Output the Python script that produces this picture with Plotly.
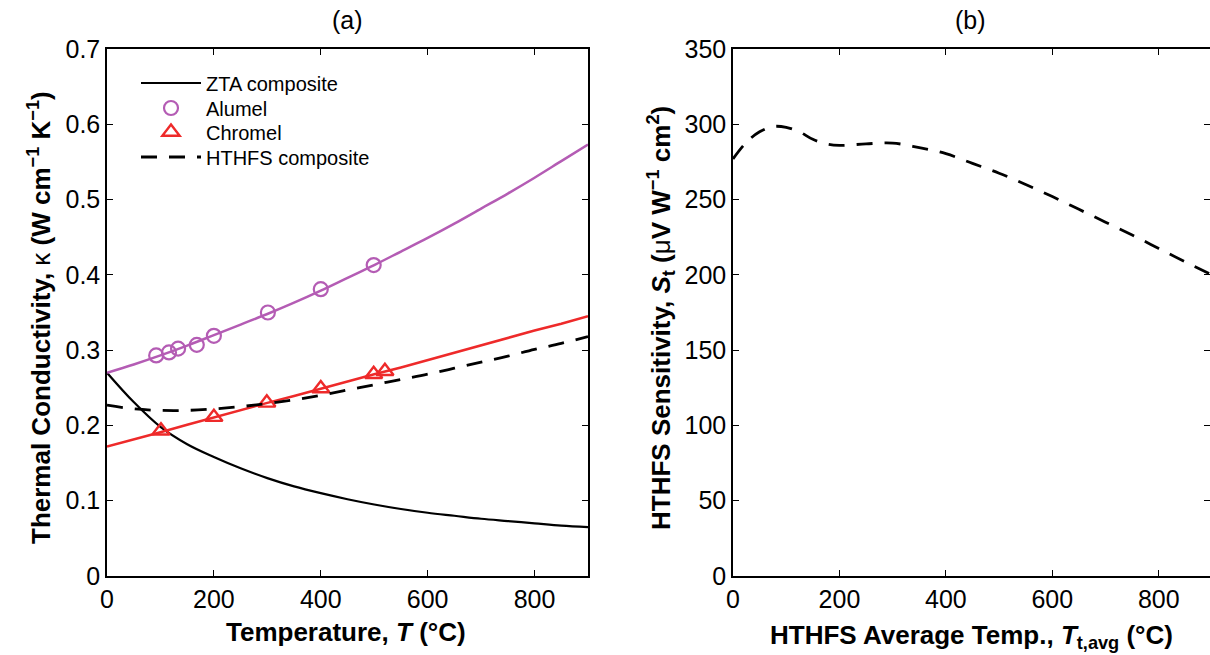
import plotly.graph_objects as go

# ---------------- data ----------------
# Panel (a): thermal conductivity vs temperature
T_line = [0, 50, 100, 150, 200, 250, 300, 350, 400, 450, 500, 550, 600, 650, 700, 750, 800, 850, 900]
zta_k = [0.270, 0.231, 0.198, 0.175, 0.158, 0.143, 0.130, 0.119, 0.110, 0.102, 0.095, 0.089, 0.084,
         0.080, 0.076, 0.073, 0.070, 0.067, 0.065]
alumel_k = [0.270, 0.281, 0.293, 0.306, 0.320, 0.334, 0.348, 0.363, 0.379, 0.396, 0.413, 0.431, 0.449,
            0.468, 0.488, 0.508, 0.529, 0.551, 0.573]
chromel_k = [0.172, 0.181, 0.191, 0.201, 0.211, 0.220, 0.230, 0.239, 0.249, 0.258, 0.268, 0.277, 0.287,
             0.297, 0.307, 0.316, 0.326, 0.335, 0.345]
hthfs_k = [0.227, 0.222, 0.220, 0.220, 0.222, 0.225, 0.229, 0.234, 0.240, 0.247, 0.254, 0.261, 0.268,
           0.276, 0.284, 0.292, 0.301, 0.309, 0.318]

alumel_T = [92, 116, 133, 168, 200, 301, 400, 499]
alumel_pts = [0.293, 0.297, 0.302, 0.307, 0.319, 0.350, 0.381, 0.413]
chromel_T = [101, 200, 299, 400, 499, 520]
chromel_pts = [0.193, 0.211, 0.230, 0.249, 0.268, 0.272]

# Panel (b): HTHFS sensitivity vs average temperature
T_avg = [0, 25, 50, 75, 100, 125, 150, 175, 200, 250, 300, 350, 400, 450, 500, 550, 600, 650, 700,
         750, 800, 850, 900]
sens = [277, 288, 295, 298.5, 298, 295, 290, 287, 286, 287, 287.5, 284.5, 280.5, 274, 267.5, 260,
        252, 243.5, 235, 226.5, 217.5, 208.5, 200]

PURPLE = "#B45CB4"
RED = "#EE2A2A"
FONT = "Liberation Sans, Arial, sans-serif"

W, H = 1210, 655


def px_x(p):
    return p / W


def px_y(p):
    return 1 - p / H


fig = go.Figure()

# ---- panel (a) traces ----
fig.add_trace(go.Scatter(x=T_line, y=zta_k, mode="lines", name="ZTA composite", legend="legend",
                         line=dict(color="black", width=2.2, shape="spline"),
                         xaxis="x", yaxis="y"))
fig.add_trace(go.Scatter(x=T_line, y=alumel_k, mode="lines", showlegend=False,
                         line=dict(color=PURPLE, width=2.5, shape="spline"),
                         xaxis="x", yaxis="y"))
fig.add_trace(go.Scatter(x=alumel_T, y=alumel_pts, mode="markers", name="Alumel", legend="legend2",
                         marker=dict(symbol="circle-open", size=14, color=PURPLE,
                                     line=dict(width=2.2, color=PURPLE)),
                         xaxis="x", yaxis="y"))
fig.add_trace(go.Scatter(x=T_line, y=chromel_k, mode="lines", showlegend=False,
                         line=dict(color=RED, width=2.5),
                         xaxis="x", yaxis="y"))
fig.add_trace(go.Scatter(x=chromel_T, y=chromel_pts, mode="markers", name="Chromel", legend="legend3",
                         marker=dict(symbol="triangle-up-open", size=15, color=RED,
                                     line=dict(width=2.4, color=RED)),
                         xaxis="x", yaxis="y"))
fig.add_trace(go.Scatter(x=T_line, y=hthfs_k, mode="lines", name="HTHFS composite", legend="legend4",
                         line=dict(color="black", width=2.8, dash="16px,12px", shape="spline"),
                         xaxis="x", yaxis="y"))

# ---- panel (b) trace ----
fig.add_trace(go.Scatter(x=T_avg, y=sens, mode="lines", showlegend=False,
                         line=dict(color="black", width=2.8, dash="16px,12px", shape="spline"),
                         xaxis="x2", yaxis="y2"))

axis_common = dict(showline=True, linecolor="black", linewidth=1.5, mirror="ticks",
                   ticks="inside", ticklen=6, tickwidth=1.2, tickcolor="black",
                   showgrid=False, zeroline=False, automargin=False,
                   tickfont=dict(family=FONT, size=25, color="black"))


def legend_at(ycenter):
    return dict(x=px_x(136), y=px_y(ycenter), xanchor="left", yanchor="middle",
                bgcolor="rgba(0,0,0,0)", borderwidth=0,
                font=dict(family=FONT, size=20, color="black"),
                tracegroupgap=0, itemwidth=60)


fig.update_layout(
    width=W, height=H,
    margin=dict(l=0, r=0, t=0, b=0, autoexpand=False),
    paper_bgcolor="white", plot_bgcolor="white",
    font=dict(family=FONT, color="black"),
    showlegend=True,
    legend=legend_at(83),
    legend2=legend_at(108),
    legend3=legend_at(132),
    legend4=legend_at(157),
    xaxis=dict(domain=[px_x(107), px_x(588)], range=[0, 900], tickvals=[0, 200, 400, 600, 800],
               anchor="y", **axis_common),
    yaxis=dict(domain=[px_y(576), px_y(49)], range=[0, 0.7],
               tickvals=[0, 0.1, 0.2, 0.3, 0.4, 0.5, 0.6, 0.7],
               ticktext=["0", "0.1", "0.2", "0.3", "0.4", "0.5", "0.6", "0.7"],
               anchor="x", **axis_common),
    xaxis2=dict(domain=[px_x(733), 1.0], range=[0, 900 * (1210 - 733) / 479.0],
                tickvals=[0, 200, 400, 600, 800], anchor="y2", **axis_common),
    yaxis2=dict(domain=[px_y(576), px_y(49)], range=[0, 350],
                tickvals=[0, 50, 100, 150, 200, 250, 300, 350],
                anchor="x2", **axis_common),
)

ann = []
title_font = dict(family=FONT, size=25, color="black")
bold_font = dict(family=FONT, size=26, color="black")
ann.append(dict(text="(a)", x=px_x(347), y=px_y(20), xref="paper", yref="paper",
                showarrow=False, font=title_font, xanchor="center", yanchor="middle"))
ann.append(dict(text="(b)", x=px_x(970), y=px_y(20), xref="paper", yref="paper",
                showarrow=False, font=title_font, xanchor="center", yanchor="middle"))
ann.append(dict(text="<b>Temperature, <i>T</i> (°C)</b>", x=px_x(346), y=px_y(632),
                xref="paper", yref="paper", showarrow=False, font=bold_font,
                xanchor="center", yanchor="middle"))
ann.append(dict(text="<b>HTHFS Average Temp., <i>T</i><sub>t,avg</sub> (°C)</b>",
                x=px_x(971), y=px_y(636), xref="paper", yref="paper", showarrow=False,
                font=bold_font, xanchor="center", yanchor="middle"))
ann.append(dict(text="<b>Thermal Conductivity, </b>κ<b> (W cm<sup>−1</sup> K<sup>−1</sup>)</b>",
                x=px_x(39), y=px_y(318), xref="paper", yref="paper", showarrow=False,
                font=bold_font, textangle=-90, xanchor="center", yanchor="middle"))
ann.append(dict(text="<b>HTHFS Sensitivity, <i>S</i><sub>t</sub> (</b>μ<b>V W<sup>−1</sup> cm<sup>2</sup>)</b>",
                x=px_x(661), y=px_y(318), xref="paper", yref="paper", showarrow=False,
                font=bold_font, textangle=-90, xanchor="center", yanchor="middle"))
fig.update_layout(annotations=ann)

fig.write_html("out.html")
